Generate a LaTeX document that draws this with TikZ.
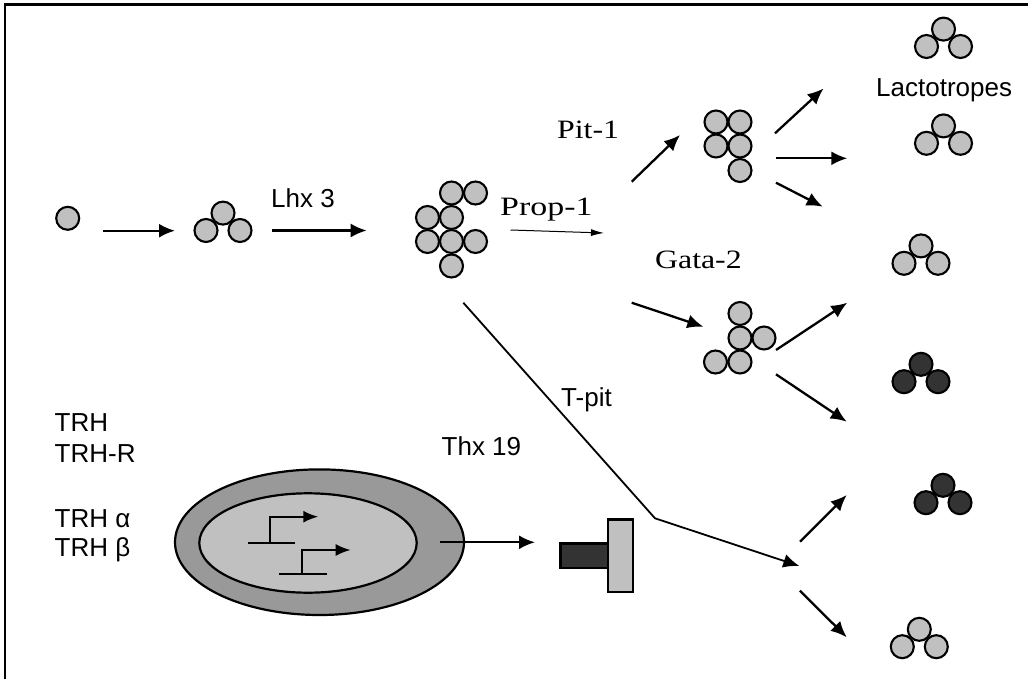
\documentclass[tikz,border=0pt]{standalone}
\usepackage{fontspec}
\usepackage{graphicx}
\setmainfont{Liberation Serif}
\setsansfont{Liberation Sans}
\usetikzlibrary{arrows.meta}
\definecolor{celllight}{HTML}{C0C0C0}
\definecolor{celldark}{HTML}{333333}
\definecolor{cytoplasm}{HTML}{999999}
\tikzset{
  pics/triplet/.style={code={
    \node[cell,fill=#1] (-t) at (17,-17.4) {};
    \node[cell,fill=#1] (-l) at (0,0) {};
    \node[cell,fill=#1] (-r) at (34,0) {};
  }}
}
\begin{document}
\begin{tikzpicture}[x=1pt,y=-1pt,
  cell/.style={circle,draw=black,line width=2.1pt,fill=celllight,minimum size=23pt,inner sep=0pt},
  flow/.style={line width=2.3pt,-{Latex[length=16pt,width=14pt]}},
  thinflow/.style={line width=1pt,-{Latex[length=13pt,width=7pt]}},
  sanslabel/.style={font=\sffamily\fontsize{26}{30}\selectfont,anchor=base west,inner sep=0pt},
  seriflabel/.style={font=\rmfamily\fontsize{26.5}{30}\selectfont,anchor=base west,inner sep=0pt},
  promoter/.style={line width=2.2pt},
  bar/.style={draw=black,line width=2.2pt}]
\useasboundingbox (0,0) rectangle (1028,679);
\fill[white] (0,0) rectangle (1028,679);

% frame
\draw[line width=2.2pt] (5,679) -- (5,4.5) -- (1028,4.5);

% --- stem cell and early clusters ---
\node[cell] (stem) at (67.7,218.3) {};
\pic (tA) at (206,230.5) {triplet=celllight};

\node[cell] (k1) at (451.5,193) {};
\node[cell] (k2) at (475.5,193) {};
\node[cell] (k3) at (427.5,217.5) {};
\node[cell] (k4) at (451.5,217.5) {};
\node[cell] (k5) at (427.5,241.5) {};
\node[cell] (k6) at (451.5,241.5) {};
\node[cell] (k7) at (475.5,241.5) {};
\node[cell] (k8) at (451.5,266) {};

% Pit-1 lineage cluster
\node[cell] (p1) at (716,122) {};
\node[cell] (p2) at (740,122) {};
\node[cell] (p3) at (716,146) {};
\node[cell] (p4) at (740,146) {};
\node[cell] (p5) at (740,170.5) {};

% Gata-2 lineage cluster
\node[cell] (g1) at (740,313.5) {};
\node[cell] (g2) at (740,338) {};
\node[cell] (g3) at (764,338) {};
\node[cell] (g4) at (715.5,362) {};
\node[cell] (g5) at (740,362) {};

% terminal cell types
\pic (lac1) at (926.5,46.5) {triplet=celllight};
\pic (lac2) at (926.5,143.3) {triplet=celllight};
\pic (tC) at (904,263.3) {triplet=celllight};
\pic (tD) at (904,381.7) {triplet=celldark};
\pic (tE) at (926,502.7) {triplet=celldark};
\pic (tF) at (902.3,646.7) {triplet=celllight};

% --- labels ---
\node[sanslabel] (lhx) at (271,207.7) {Lhx 3};
\node[sanslabel] (lacto) at (876,96.7) {Lactotropes};
\node[sanslabel] (tpit) at (561,406.7) {T-pit};
\node[sanslabel] (thx) at (441.5,455) {Thx 19};
\node[sanslabel] (trh) at (54.5,431.7) {TRH};
\node[sanslabel] (trhr) at (54.5,462.3) {TRH-R};
\node[sanslabel] (trha) at (54.5,527.7) {TRH α};
\node[sanslabel] (trhb) at (54.5,556.7) {TRH β};
\node[seriflabel] (pit) at (557,138.3) {\scalebox{1.2}[1]{Pit-1}};
\node[seriflabel] (prop) at (500,216) {\scalebox{1.28}[1]{Prop-1}};
\node[seriflabel] (gata) at (655,268.3) {\scalebox{1.2}[1]{Gata-2}};

% --- arrow end points ---
\coordinate (a1s) at (103.3,230.7);  \coordinate (a1e) at (175,230.7);
\coordinate (a2s) at (271.7,230.5);  \coordinate (a2e) at (366.7,230.5);
\coordinate (a3s) at (510.5,230);    \coordinate (a3e) at (604,233);
\coordinate (a4s) at (631.7,181.7);  \coordinate (a4e) at (680,135);
\coordinate (a5s) at (775,133.3);    \coordinate (a5e) at (823.5,88.5);
\coordinate (a6s) at (776,158.3);    \coordinate (a6e) at (847.3,158.3);
\coordinate (a7s) at (776,182.7);    \coordinate (a7e) at (822.7,206.7);
\coordinate (a8s) at (631.7,302.7);  \coordinate (a8e) at (703.3,326.7);
\coordinate (a9s) at (776,350);      \coordinate (a9e) at (847.3,302.7);
\coordinate (a10s) at (776,374.3);   \coordinate (a10e) at (846.7,421.7);
\coordinate (tps) at (463.3,302.7);  \coordinate (tpb) at (655,518.3);
\coordinate (tpe) at (799.3,566);
\coordinate (a11s) at (800,541.7);   \coordinate (a11e) at (846.7,495);
\coordinate (a12s) at (800,590.7);   \coordinate (a12e) at (846.7,637.3);

\draw[flow] (a1s) -- (a1e);
\draw[flow] (a2s) -- (a2e);
\draw[thinflow] (a3s) -- (a3e);
\draw[flow] (a4s) -- (a4e);
\draw[flow] (a5s) -- (a5e);
\draw[flow] (a6s) -- (a6e);
\draw[flow] (a7s) -- (a7e);
\draw[flow] (a8s) -- (a8e);
\draw[flow] (a9s) -- (a9e);
\draw[flow] (a10s) -- (a10e);
\draw[line width=1.8pt,-{Latex[length=16pt,width=14pt]}] (tps) -- (tpb) -- (tpe);
\draw[flow] (a11s) -- (a11e);
\draw[flow] (a12s) -- (a12e);

% --- cell with nucleus and promoters ---
\draw[line width=2.2pt,fill=cytoplasm] (319.5,542.2) ellipse [x radius=144.5,y radius=72.8];
\draw[line width=2.2pt,fill=celllight] (308,543) ellipse [x radius=108.7,y radius=49.7];

\draw[promoter] (247.7,542.7) -- (295,542.7);
\draw[promoter,-{Latex[length=15pt,width=12pt]}] (270,542.7) -- (270,516.7) -- (318.3,516.7);
\draw[promoter] (279.3,574) -- (327.3,574);
\draw[promoter,-{Latex[length=15pt,width=12pt]}] (301.7,574) -- (301.7,550) -- (350.7,550);

\coordinate (ees) at (440,542.3); \coordinate (eee) at (535,542.3);
\draw[flow] (ees) -- (eee);

% receptor-like bars
\node[bar,fill=celldark,anchor=north west,minimum width=47.4pt,minimum height=24.4pt,inner sep=0pt] (dbar) at (559.3,542.3) {};
\node[bar,fill=celllight,anchor=north west,minimum width=25.3pt,minimum height=72.4pt,inner sep=0pt] (lbar) at (606.7,518.3) {};
\end{tikzpicture}
\end{document}
